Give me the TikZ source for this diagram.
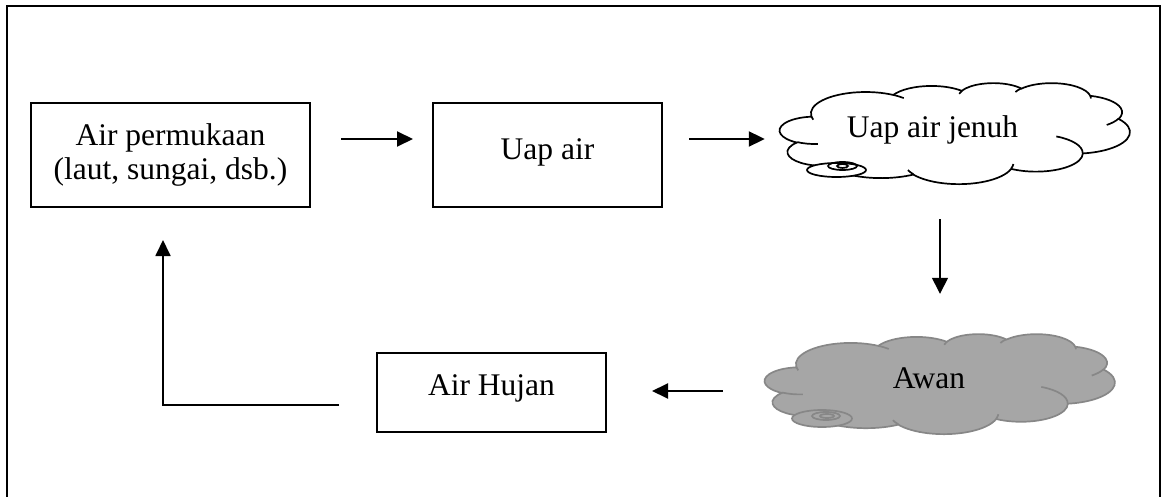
\documentclass[tikz,border=0pt]{standalone}
\usepackage{fontspec}
\setmainfont{Liberation Serif}
\usetikzlibrary{arrows.meta}

% direction angle on an ellipse -> parametric angle (same quadrant)
\newcommand\visang[3]{((#3)+mod(atan2((#1)*sin(#3),(#2)*cos(#3))-(#3)+540,360)-180)}
% elliptic arc continuing from the current point: radii, start angle, sweep
\newcommand\carc[4]{arc[start angle={\visang{#1}{#2}{#3}}, end angle={\visang{#1}{#2}{#3+#4}}, x radius=#1, y radius=#2]}

% cloud outline on a 4320 x 4320 grid
\newcommand\cloudrim{(390,1437)
  \carc{675.3}{919.0}{-190.4875}{123.7805}
  \carc{533.3}{726.7}{-144.1024}{89.9452}
  \carc{436.5}{594.5}{-145.8079}{99.7230}
  \carc{485.7}{659.5}{-130.9861}{117.2417}
  \carc{533.3}{727.3}{-78.7089}{109.0269}
  \carc{677.5}{922.0}{-46.2673}{130.2690}
  \carc{578.5}{786.7}{0.6250}{114.0333}
  \carc{675.2}{921.5}{22.4516}{115.1726}
  \carc{772.0}{1054.3}{66.2426}{75.7110}
  \carc{436.0}{591.8}{-274.9421}{146.7356}
  \carc{434.5}{594.5}{-246.8285}{152.5226}
  -- cycle}

% the short creases inside the cloud
\newcommand\cloudcreases{
  (469.3,2617.7) \carc{434.5}{594.5}{86.7420}{26.4295}
  (692.8,3489.9) \carc{436.0}{591.8}{73.6105}{11.4475}
  (1647.8,3909.0) \carc{675.2}{921.5}{137.6242}{14.0811}
  (2882.7,3475.1) \carc{675.2}{921.5}{6.4533}{15.9984}
  (3412.9,2295.4) \carc{578.5}{786.7}{-70.2924}{70.9174}
  (4179.8,1535.4) \carc{533.3}{727.3}{30.3180}{27.7515}
  (3832.4,542.6) \carc{485.7}{659.5}{-13.7443}{14.8589}
  (2907.8,395.2) \carc{485.7}{659.5}{-149.1815}{18.1954}
  (2214.1,472.0) \carc{436.5}{594.5}{-163.4943}{17.6864}
  (1400.0,519.2) \carc{675.3}{919.0}{-66.7070}{12.3194}
  (412.7,1578.9) \carc{675.3}{919.0}{157.6544}{11.8582}}

\definecolor{cloudgrey}{HTML}{A6A6A6}
\definecolor{cloudedge}{HTML}{878787}

\begin{document}
\begin{tikzpicture}[x=1pt, y=-1pt,
    font=\fontsize{31.5}{33.5}\selectfont,
    box/.style={draw, line width=2pt, inner sep=0pt, align=center},
    area/.style={inner sep=0pt, minimum width=350pt},
    flow/.style={line width=2pt, -{Triangle[length=16pt,width=15pt]}},
    thinflow/.style={line width=1.4pt, -{Triangle[length=16pt,width=16pt]}},
    whitecloud/.style={fill=white, draw=black, line width=1.7pt},
    greycloud/.style={fill=cloudgrey, draw=cloudedge, line width=1.7pt}]
  \useasboundingbox (0,0) rectangle (1162,497);

  % page frame, open at the bottom
  \draw[line width=2.2pt] (7,497) -- (7,6) -- (1160,6) -- (1160,497);

  % boxes
  \node[box, minimum width=279pt, minimum height=104pt] (surface) at (170.5,155)
    {Air permukaan\\(laut, sungai, dsb.)};
  \node[box, minimum width=229pt, minimum height=104pt,
        text height=22pt, text depth=12pt] (vapour) at (547.5,155) {Uap air};
  \node[box, minimum width=229pt, minimum height=79pt,
        text height=22pt, text depth=17pt] (rain) at (491.5,392.5) {Air Hujan};

  % areas taken by the two clouds
  \node[area, minimum height=101pt] (sat) at (955,133.5) {};
  \node[area, minimum height=100pt] (cloud) at (940,384) {};

  % saturated vapour cloud
  \begin{scope}[shift={(sat.north west)}, x=0.081019pt, y=-0.023380pt]
    \path[whitecloud] \cloudrim;
    \draw[line width=1.7pt] \cloudcreases;
  \end{scope}
  \filldraw[whitecloud] (836.5,170) ellipse[x radius=29.5, y radius=7];
  \draw[line width=1.7pt] (842.5,166) ellipse[x radius=14.5, y radius=4];
  \draw[line width=1.7pt] (842.5,166) ellipse[x radius=5.5, y radius=2];
  \node[anchor=base] (satlabel) at (932.5,138) {Uap air jenuh};

  % rain cloud
  \begin{scope}[shift={(cloud.north west)}, x=0.081019pt, y=-0.023148pt]
    \path[greycloud] \cloudrim;
    \draw[draw=cloudedge, line width=1.7pt] \cloudcreases;
  \end{scope}
  \filldraw[greycloud] (822,418.5) ellipse[x radius=30, y radius=8.5];
  \draw[cloudedge, line width=1.7pt] (826,416) ellipse[x radius=14, y radius=4];
  \draw[cloudedge, line width=1.7pt] (827,416) ellipse[x radius=7, y radius=2];
  \node[anchor=base] (cloudlabel) at (929,388) {Awan};

  % connectors
  \draw[flow] ([shift={(30,-16)}]surface.east) -- ([shift={(-19,-16)}]vapour.west);
  \draw[flow] ([shift={(26,-16)}]vapour.east) -- ([shift={(-15,5.5)}]sat.west);
  \draw[thinflow] ([shift={(-15,35)}]sat.south) -- ([shift={(0,-40)}]cloud.north);
  \draw[flow] ([shift={(-42,7)}]cloud.west) -- ([shift={(45,-1.5)}]rain.east);
  \draw[flow, line width=1.8pt] ([shift={(-37,12.5)}]rain.west) -| ([shift={(-7.5,32)}]surface.south);
\end{tikzpicture}
\end{document}
